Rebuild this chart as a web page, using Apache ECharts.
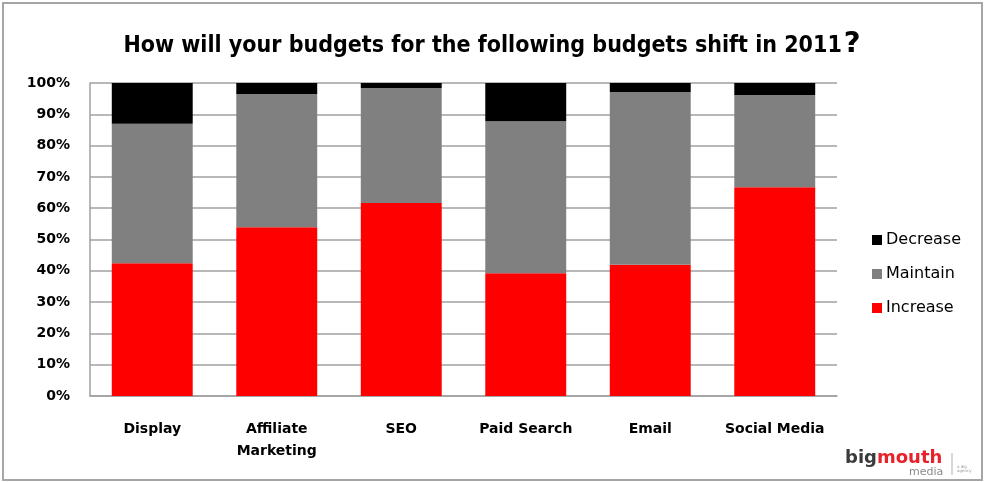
<!DOCTYPE html>
<html>
<head>
<meta charset="utf-8">
<script src="https://cdn.jsdelivr.net/npm/echarts@6/dist/echarts.min.js"></script>
<style>
  html, body { margin: 0; padding: 0; background: #fff; }
  #chart { width: 984px; height: 482px; }
</style>
</head>
<body>
<div id="chart"></div>
<script>
// Survey channels and the share of respondents per budget direction (%)
const categories = ['Display', 'Affiliate\nMarketing', 'SEO', 'Paid Search', 'Email', 'Social Media'];
const increase = [42.4, 53.9, 61.7, 39.2, 41.9, 66.7];
const maintain = [44.6, 42.6, 36.7, 48.6, 55.2, 29.5];
const decrease = [13.0, 3.5, 1.6, 12.2, 2.9, 3.8];
const yTicks = [0, 10, 20, 30, 40, 50, 60, 70, 80, 90, 100];

const chart = echarts.init(document.getElementById('chart'), null, { renderer: 'canvas' });

const labelFont = { fontFamily: 'DejaVu Sans', fontWeight: 'bold', fontSize: 14, color: '#000' };

chart.setOption({
  animation: false,
  backgroundColor: '#fff',
  title: {
    text: '{t|How will your budgets for the following budgets shift in 2011}{q|?}',
    left: 'center',
    top: 25,
    textStyle: {
      rich: {
        t: { fontFamily: 'DejaVu Sans Condensed', fontWeight: 'bold', fontSize: 23, color: '#000' },
        q: { fontFamily: 'DejaVu Sans', fontWeight: 'bold', fontSize: 29, color: '#000', padding: [0, 0, 4, 2] }
      }
    }
  },
  legend: {
    orient: 'vertical',
    left: 867,
    top: 227,
    itemWidth: 10,
    itemHeight: 10,
    itemGap: 18,
    icon: 'rect',
    data: ['Decrease', 'Maintain', 'Increase'],
    textStyle: { fontFamily: 'DejaVu Sans', fontSize: 16, color: '#000', padding: [0, 0, 0, -1] }
  },
  grid: { left: 90, right: 147, top: 83, bottom: 86, containLabel: false },
  xAxis: {
    type: 'category',
    data: categories,
    axisLine: { show: true, lineStyle: { color: '#a0a0a0', width: 1.5 } },
    axisTick: { show: false },
    axisLabel: Object.assign({ margin: 22, interval: 0, lineHeight: 22 }, labelFont),
    splitLine: { show: false }
  },
  yAxis: {
    type: 'value',
    min: yTicks[0],
    max: yTicks[yTicks.length - 1],
    interval: yTicks[1] - yTicks[0],
    axisLine: { show: true, lineStyle: { color: '#a0a0a0', width: 1.5 } },
    axisTick: { show: false },
    axisLabel: Object.assign({ margin: 20, formatter: '{value}%' }, labelFont),
    splitLine: { show: true, lineStyle: { color: '#a0a0a0', width: 1.5 } }
  },
  series: [
    { name: 'Increase', type: 'bar', stack: 'total', data: increase, barWidth: '65%', itemStyle: { color: '#ff0000' } },
    { name: 'Maintain', type: 'bar', stack: 'total', data: maintain, itemStyle: { color: '#808080' } },
    { name: 'Decrease', type: 'bar', stack: 'total', data: decrease, itemStyle: { color: '#000000' } }
  ],
  graphic: [
    // outer frame of the chart object
    { type: 'rect', shape: { x: 3, y: 3, width: 979, height: 477 }, style: { fill: 'none', stroke: '#a6a6a6', lineWidth: 2 }, silent: true },
    // bigmouth media logo
    { type: 'text', left: 845, top: 449, style: { text: '{b|big}{m|mouth}', rich: {
        b: { fontFamily: 'DejaVu Sans', fontWeight: 'bold', fontSize: 18, fill: '#3a3a3a' },
        m: { fontFamily: 'DejaVu Sans', fontWeight: 'bold', fontSize: 18, fill: '#e8212a' } } } },
    { type: 'text', left: 909, top: 467, style: { text: 'media', fontFamily: 'DejaVu Sans', fontSize: 11, fill: '#8a8a8a' } },
    { type: 'line', shape: { x1: 952, y1: 453, x2: 952, y2: 475 }, style: { stroke: '#b0b0b0', lineWidth: 1 } },
    { type: 'text', left: 957, top: 465, style: { text: 'a dig\nagency', fontFamily: 'DejaVu Sans', fontSize: 4, fill: '#9a9a9a' } }
  ]
});
</script>
</body>
</html>
